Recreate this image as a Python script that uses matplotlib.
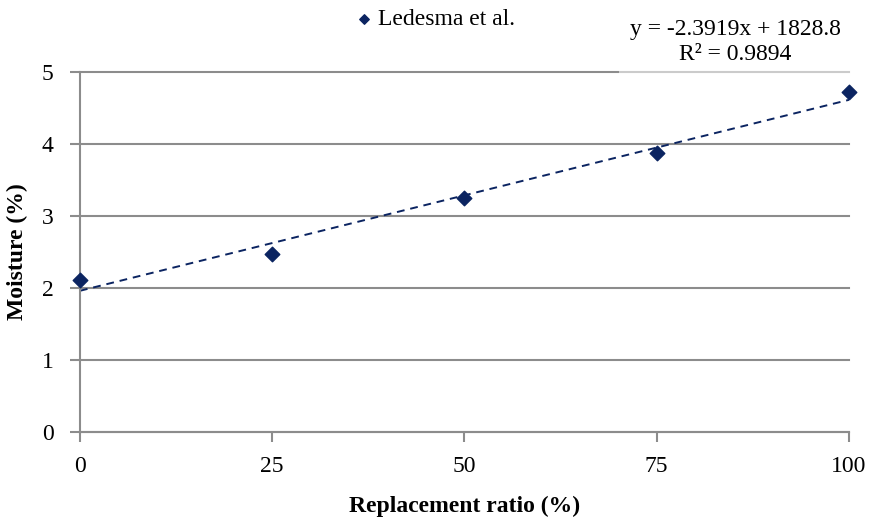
import numpy as np
import matplotlib.pyplot as plt

# replacement ratio (%) and measured moisture (%)
ratio = [0, 25, 50, 75, 100]
moisture = [2.11, 2.47, 3.25, 3.88, 4.72]
series_name = "Ledesma et al."
eq_text = "y = -2.3919x + 1828.8\nR² = 0.9894"

navy = "#0b2461"
grid_col = "#8c8c8c"

plt.rcParams['font.family'] = ['Liberation Serif', 'DejaVu Serif']
fs = 17

fig = plt.figure(figsize=(8.69, 5.21), dpi=100)
ax = fig.add_axes([0.092, 0.171, 0.885, 0.691])

ax.scatter(ratio, moisture, marker='D', s=55, color=navy, zorder=3,
           clip_on=False, label=series_name)

# linear trend line
k, b = np.polyfit(ratio, moisture, 1)
xs = np.array([0, 100])
ax.plot(xs, k * xs + b, ls=(0, (4, 3)), color=navy, lw=1.4, zorder=2)

ax.set_xlim(0, 100)
ax.set_ylim(0, 5)
ax.set_xticks([0, 25, 50, 75, 100])
ax.set_yticks([0, 1, 2, 3, 4, 5])
ax.grid(axis='y', color=grid_col, lw=1.5)
for gl in ax.get_ygridlines():
    gl.set_clip_on(False)
ax.set_axisbelow(True)
for s in ['top', 'right']:
    ax.spines[s].set_visible(False)
for s in ['left', 'bottom']:
    ax.spines[s].set_color(grid_col)
    ax.spines[s].set_linewidth(1.5)
ax.tick_params(colors=grid_col, length=7, width=1.5, labelcolor='black',
               labelsize=fs)
ax.tick_params(axis='x', pad=10)
ax.tick_params(axis='y', pad=12)

ax.set_xlabel("Replacement ratio (%)", fontweight='bold', fontsize=fs, labelpad=14)
ax.set_ylabel("Moisture (%)", fontweight='bold', fontsize=fs, labelpad=10)

ax.legend(loc='center left', bbox_to_anchor=(0.36, 1.145), frameon=False,
          handlelength=0.6, handletextpad=0.3, markerscale=0.65, fontsize=fs,
          borderaxespad=0, borderpad=0)

fig.text(0.846, 0.92, eq_text, ha='center', va='center', fontsize=fs,
         linespacing=1.25,
         bbox=dict(facecolor='white', edgecolor='none', alpha=0.55, pad=8))

fig.savefig("out.png", dpi=100)
